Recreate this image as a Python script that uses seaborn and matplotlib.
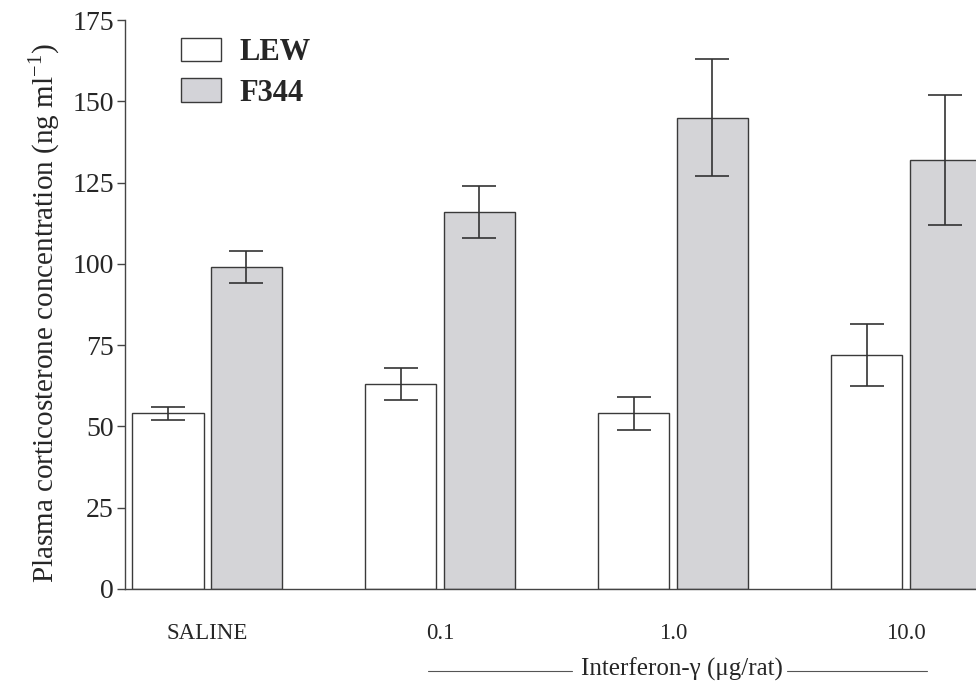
import matplotlib
matplotlib.use("Agg")
import matplotlib.pyplot as plt
import seaborn as sns
import pandas as pd
from matplotlib.lines import Line2D
from matplotlib.patches import Patch

groups = ["SALINE", "0.1", "1.0", "10.0"]
strains = ["LEW", "F344"]
lew_mean = [54, 63, 54, 72]
lew_err = [2, 5, 5, 9.5]
f344_mean = [99, 116, 145, 132]
f344_err = [5, 8, 18, 20]
yticks = [0, 25, 50, 75, 100, 125, 150, 175]

sns.set_theme(style="white")
plt.rcParams['font.family'] = ['Liberation Serif', 'DejaVu Serif']
plt.rcParams['mathtext.fontset'] = 'custom'
plt.rcParams['mathtext.rm'] = 'Liberation Serif'

df = pd.DataFrame({
    "dose": groups * 2,
    "strain": ["LEW"] * 4 + ["F344"] * 4,
    "value": lew_mean + f344_mean,
})

fig = plt.figure(figsize=(9.76, 6.86), dpi=100)
W, H = 976, 686
left_px, right_px = 125, 207 + 3.6 * 233
ax_w_px = right_px - left_px
ax = fig.add_axes([left_px / W, (H - 589) / H, ax_w_px / W, (589 - 20) / H])

edge = "#3a3a3a"
fcol = "#d3d3d8"
sns.barplot(data=df, x="dose", y="value", hue="strain", order=groups, hue_order=strains,
            palette={"LEW": "white", "F344": fcol}, edgecolor=edge, linewidth=1.0,
            width=0.67, gap=0.09, errorbar=None, ax=ax, legend=False)

errs = {"LEW": lew_err, "F344": f344_err}
means = {"LEW": lew_mean, "F344": f344_mean}
for cont, s in zip(ax.containers, strains):
    xs = [p.get_x() + p.get_width() / 2 for p in cont.patches]
    ax.errorbar(xs, means[s], yerr=errs[s], fmt="none", ecolor="#333333",
                elinewidth=1.2, capsize=12, capthick=1.2, zorder=5)

ax.set_xlim(-0.352, 3.6)
ax.set_ylim(0, 175)
ax.set_yticks(yticks)
ax.set_yticklabels([str(t) for t in yticks], fontsize=20)
ax.tick_params(axis="y", which="major", direction="out", length=6, width=1, color="#444444", pad=2, left=True)
ax.tick_params(axis="x", length=0, pad=24.5, labelsize=16.5)
for s in ["top", "right"]:
    ax.spines[s].set_visible(False)
for s in ["left", "bottom"]:
    ax.spines[s].set_color("#444444")
    ax.spines[s].set_linewidth(1.0)
ax.set_xlabel("")
ax.set_ylabel("Plasma corticosterone concentration (ng ml$^{-1}$)", fontsize=21)
ax.yaxis.set_label_coords((62 - left_px) / ax_w_px, 0.485)

# legend
handles = [Patch(facecolor="white", edgecolor=edge, linewidth=1.0),
           Patch(facecolor=fcol, edgecolor=edge, linewidth=1.0)]
leg = ax.legend(handles, strains, loc="upper left", bbox_to_anchor=(181 / W, (H - 38) / H),
                bbox_transform=fig.transFigure, frameon=False, borderpad=0, borderaxespad=0,
                handlelength=1.32, handleheight=0.8, labelspacing=0.36, handletextpad=0.58,
                prop={"family": "Liberation Serif", "weight": "bold", "size": 22})

# x-axis group label with side rules
fig.text(682 / W, (H - 669) / H, "Interferon-γ (μg/rat)", ha="center", va="center", fontsize=18)
fig.add_artist(Line2D([428 / W, 572 / W], [(H - 671) / H] * 2, color="#555555", lw=0.8))
fig.add_artist(Line2D([787 / W, 927 / W], [(H - 671) / H] * 2, color="#555555", lw=0.8))

fig.savefig("out.png", dpi=100)
